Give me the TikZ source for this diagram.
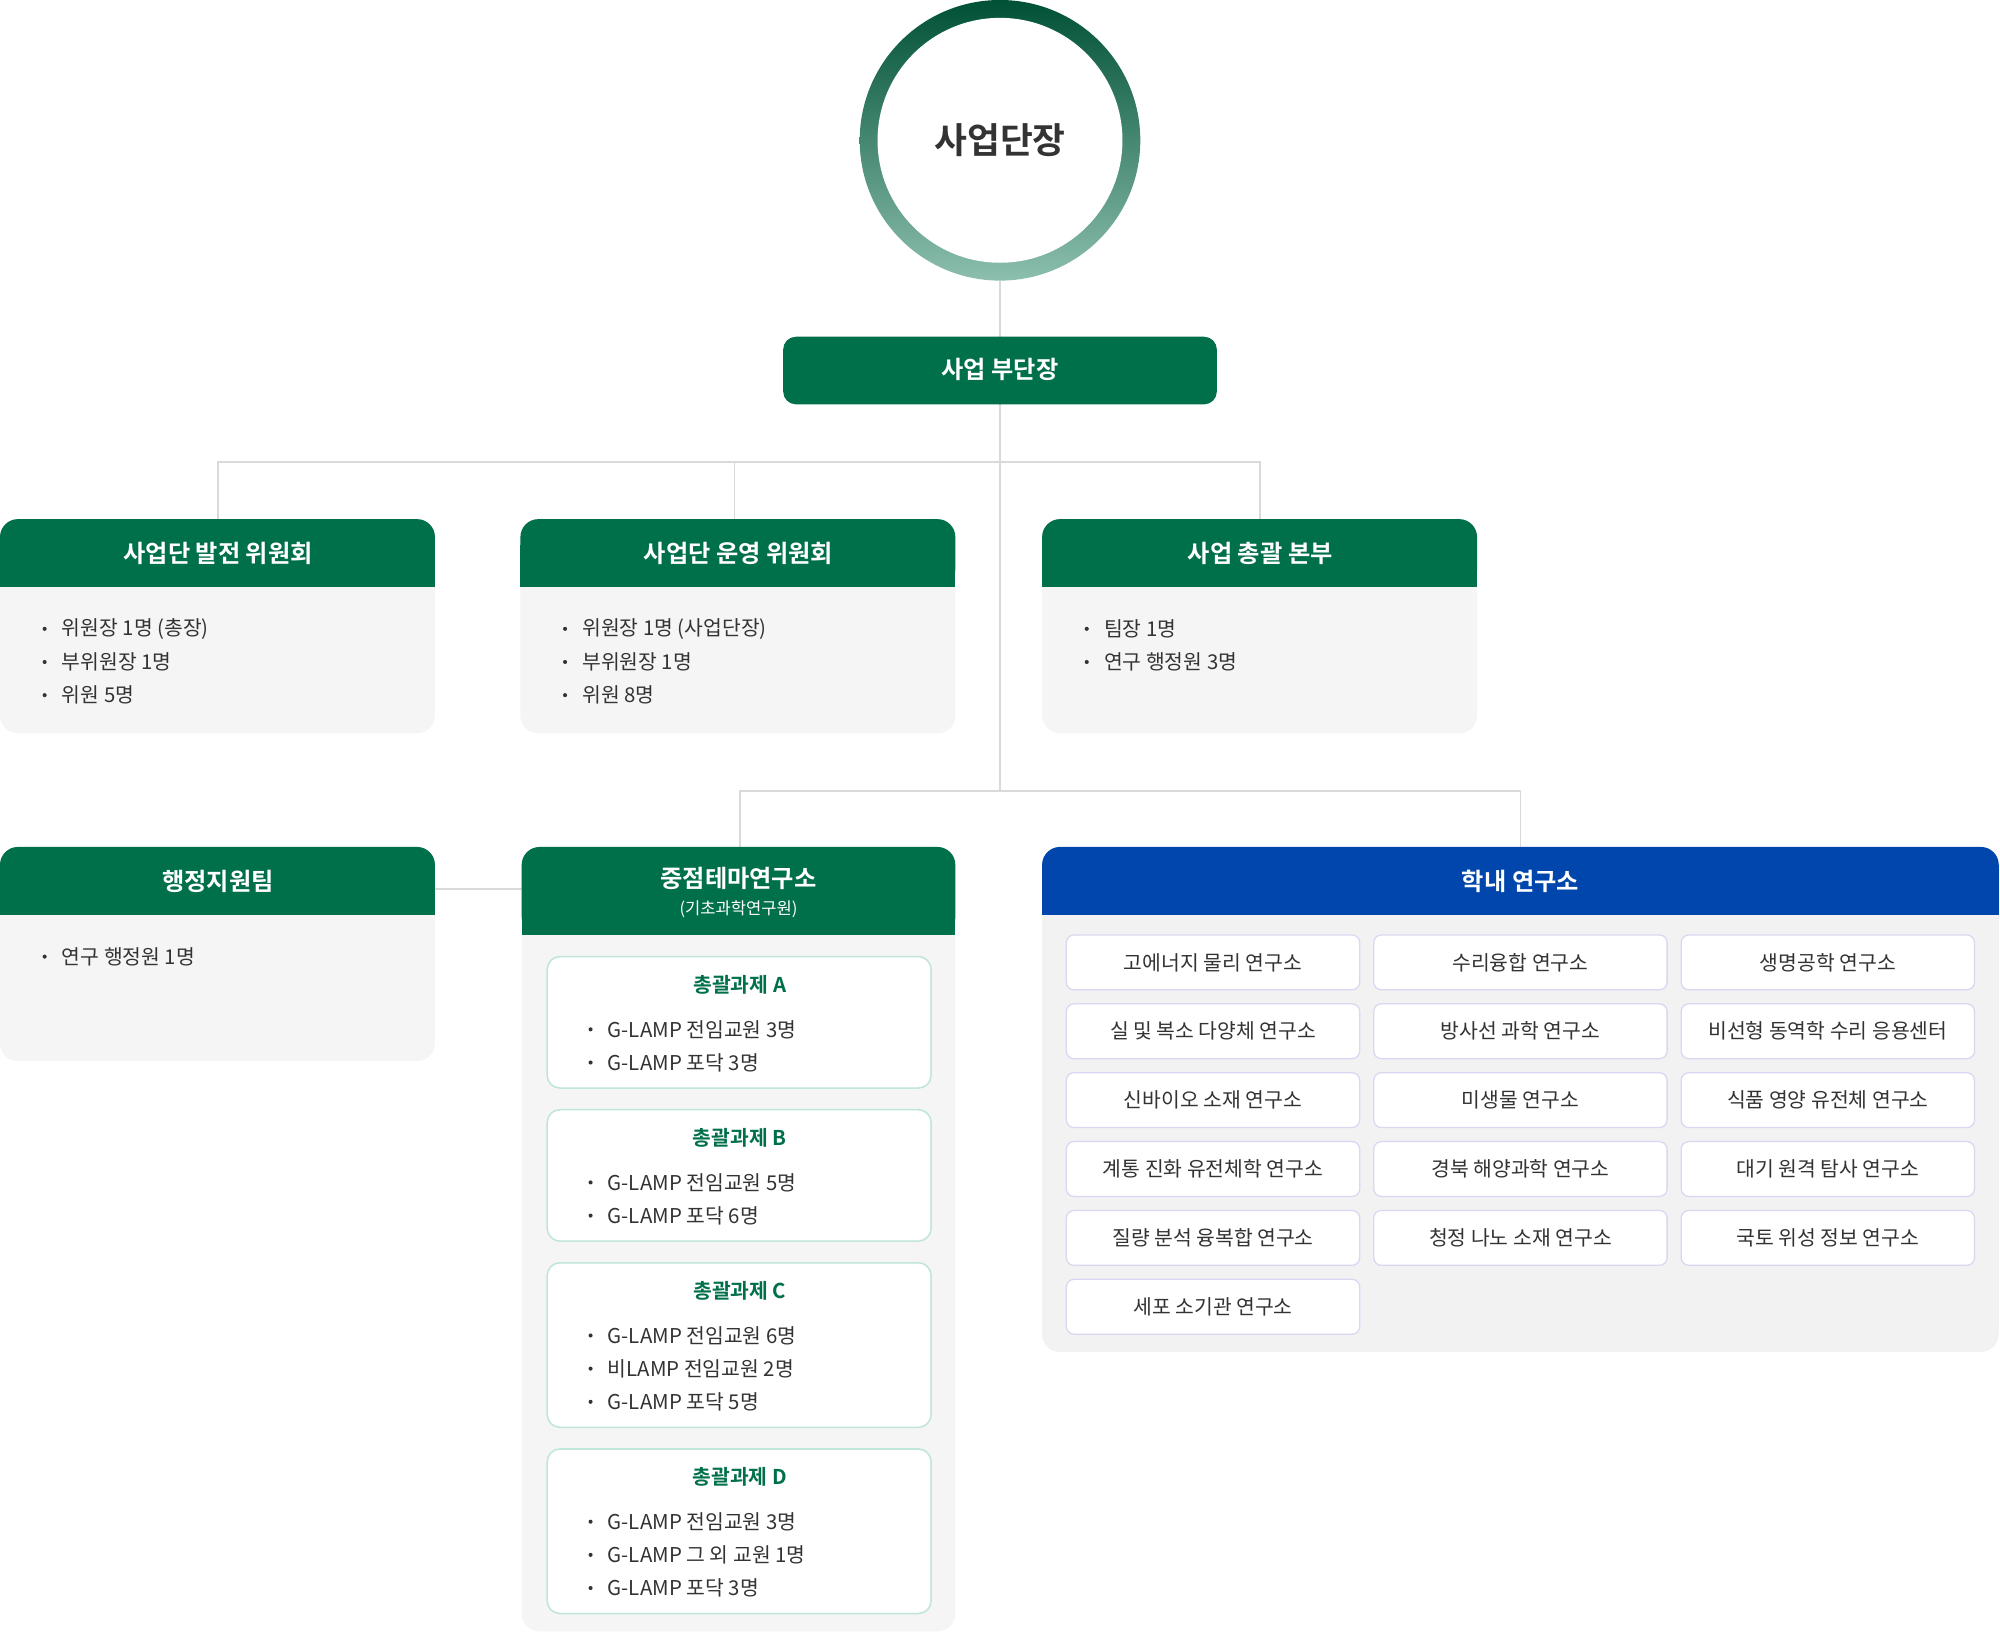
\documentclass[tikz,border=0pt]{standalone}
\usepackage{fontspec}
\setmainfont{Noto Sans CJK KR}
\newfontfamily\bfk{Noto Sans CJK KR Bold}
\definecolor{gr}{HTML}{00704A}
\definecolor{bl}{HTML}{0046AD}
\definecolor{bg}{HTML}{F5F5F5}
\definecolor{tx}{HTML}{333333}
\definecolor{ln}{HTML}{D9D9D9}
\definecolor{sb}{HTML}{BFE6D6}
\definecolor{cb}{HTML}{D8D8F2}
\tikzset{conn/.style={draw=ln,line width=1.2pt},
 hd/.style={text=white,font=\fontsize{19}{22}\selectfont\bfk},
 bt/.style={text=tx,font=\fontsize{16}{19}\selectfont,anchor=west},
 cell/.style={draw=cb,fill=white,rounded corners=6,line width=1pt},
 ctx/.style={text=tx,font=\fontsize{16}{19}\selectfont}}
% box: x1,y1,x2,yh,y2,color,bodycolor
\newcommand{\orgbox}[7]{%
 \fill[#7,rounded corners=14] (#1,#2) rectangle (#3,#5);
 \fill[#6,rounded corners=14] (#1,#2) rectangle (#3,#4);
 \fill[#6] (#1,#2+20) rectangle (#3,#4);}
\newcommand{\bul}[3]{\fill[tx] (#1,#2) circle (1.6); \node[bt] at (#1+10,#2) {#3};}
\begin{document}
\begin{tikzpicture}[x=1pt,y=-1pt]
\useasboundingbox (0,0) rectangle (1568,1281);
% connectors
\coordinate (top) at (784,220);
\coordinate (j1) at (784,362);
\coordinate (j2) at (784,620);
\draw[conn] (784,220) -- (784,264);
\draw[conn] (784,317) -- (j2);
\draw[conn] (171,407) -- (171,362) -- (988,362) -- (988,407);
\draw[conn] (576,362) -- (576,407);
\draw[conn] (580,664) -- (580,620) -- (1192,620) -- (1192,664);
\draw[conn] (341,697) -- (409,697);
% circle
\shade[top color=black!10!gr!80!black, bottom color=gr!45!white] (784,110) circle (110);
\fill[white] (784,110) circle (96);
\node[text=tx,font=\fontsize{28}{32}\selectfont\bfk] (chief) at (784,110) {사업단장};
% vice
\fill[gr,rounded corners=10] (614,264) rectangle (954,317);
\node[hd] (vice) at (784,290) {사업 부단장};
% row1
\orgbox{0}{407}{341}{460}{575}{gr}{bg}
\node[hd] (c1) at (171,434) {사업단 발전 위원회};
\bul{35}{493}{위원장 1명 (총장)}\bul{35}{519}{부위원장 1명}\bul{35}{545}{위원 5명}
\orgbox{408}{407}{749}{460}{575}{gr}{bg}
\node[hd] (c2) at (579,434) {사업단 운영 위원회};
\bul{443}{493}{위원장 1명 (사업단장)}\bul{443}{519}{부위원장 1명}\bul{443}{545}{위원 8명}
\orgbox{817}{407}{1158}{460}{575}{gr}{bg}
\node[hd] (c3) at (988,434) {사업 총괄 본부};
\bul{852}{493}{팀장 1명}\bul{852}{519}{연구 행정원 3명}
% row2
\orgbox{0}{664}{341}{717}{832}{gr}{bg}
\node[hd] (adm) at (171,691) {행정지원팀};
\bul{35}{750}{연구 행정원 1명}
\orgbox{409}{664}{749}{733}{1279}{gr}{bg}
\node[hd] (thm) at (579,689) {중점테마연구소};
\node[text=white,font=\fontsize{13}{15}\selectfont] at (579,713) {(기초과학연구원)};
\foreach \t/\y/\h/\a/\b/\c in {A/750/103/G-LAMP 전임교원 3명/G-LAMP 포닥 3명/,B/870/103/G-LAMP 전임교원 5명/G-LAMP 포닥 6명/,C/990/129/G-LAMP 전임교원 6명/비LAMP 전임교원 2명/G-LAMP 포닥 5명,D/1136/129/G-LAMP 전임교원 3명/G-LAMP 그 외 교원 1명/G-LAMP 포닥 3명}{
 \draw[draw=sb,fill=white,rounded corners=10,line width=1.2pt] (429,\y) rectangle (730,\y+\h);
 \node[text=gr,font=\fontsize{16}{19}\selectfont\bfk] at (580,\y+22) {총괄과제 \t};
 \bul{463}{\y+57}{\a}\bul{463}{\y+83}{\b}
 \if\relax\detokenize\expandafter{\c}\relax\else\bul{463}{\y+109}{\c}\fi
}
\orgbox{817}{664}{1567}{717}{1060}{bl}{black!5}
\node[hd] (lab) at (1192,691) {학내 연구소};
\foreach \n [count=\i from 0] in {고에너지 물리 연구소,수리융합 연구소,생명공학 연구소,실 및 복소 다양체 연구소,방사선 과학 연구소,비선형 동역학 수리 응용센터,신바이오 소재 연구소,미생물 연구소,식품 영양 유전체 연구소,계통 진화 유전체학 연구소,경북 해양과학 연구소,대기 원격 탐사 연구소,질량 분석 융복합 연구소,청정 나노 소재 연구소,국토 위성 정보 연구소,세포 소기관 연구소}{
 \pgfmathsetmacro{\cx}{836+241*mod(\i,3)}
 \pgfmathsetmacro{\cy}{733+54*int(\i/3)}
 \draw[cell] (\cx,\cy) rectangle (\cx+230,\cy+43);
 \node[ctx] at (\cx+115,\cy+21.5) {\n};
}
\end{tikzpicture}
\end{document}
